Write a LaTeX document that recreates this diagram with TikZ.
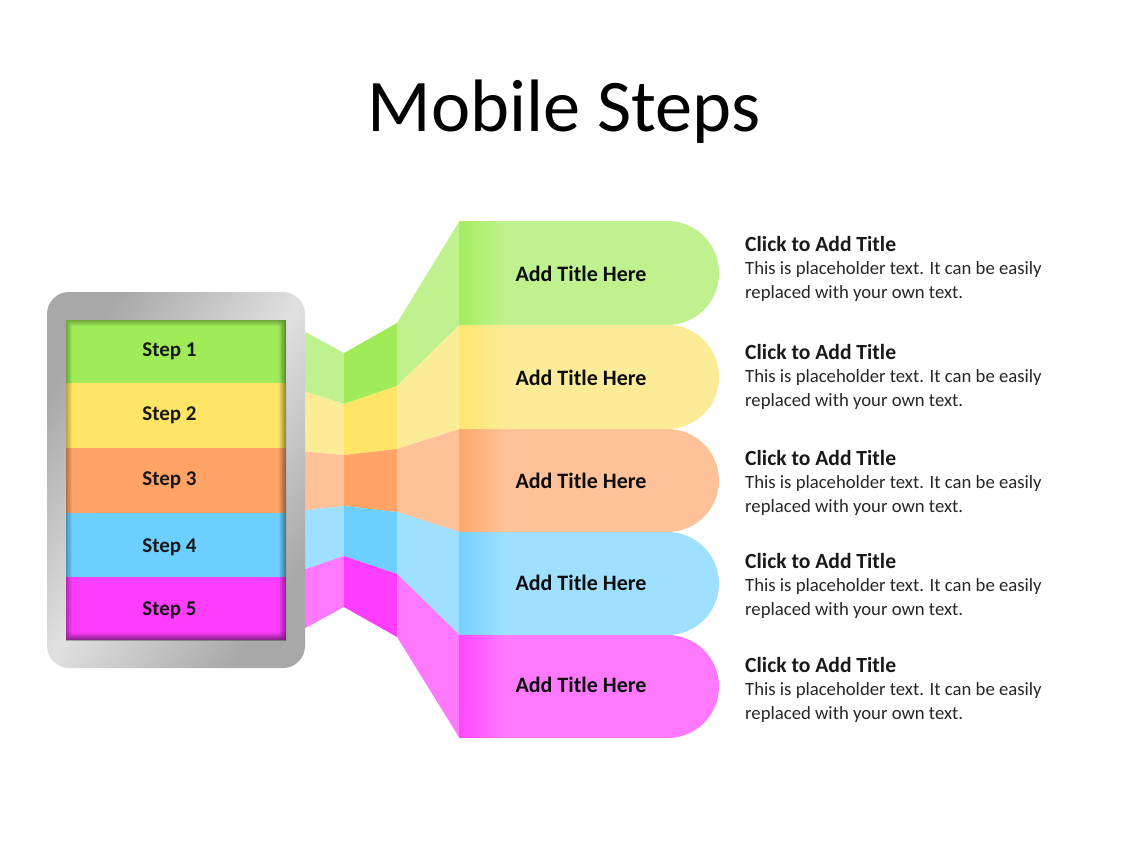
\documentclass[tikz,border=0pt]{standalone}
\usepackage{fontspec}
\setmainfont{Carlito}
\usepackage{tikz}
\usetikzlibrary{positioning}
\definecolor{greenS}{HTML}{9FEC58}
\definecolor{greenL}{HTML}{BFF28F}
\definecolor{yellowS}{HTML}{FFE566}
\definecolor{yellowL}{HTML}{FDEC97}
\definecolor{orangeS}{HTML}{FFA366}
\definecolor{orangeL}{HTML}{FFC298}
\definecolor{blueS}{HTML}{6DCFFF}
\definecolor{blueL}{HTML}{9FDFFF}
\definecolor{pinkS}{HTML}{FF3DFF}
\definecolor{pinkL}{HTML}{FF79FF}

\begin{document}
\begin{tikzpicture}
[x=1pt,y=-1pt,
headtext/.style = {anchor=base,font=\fontsize{74.3}{74.3}\selectfont},
steptext/.style = {anchor=base,font=\fontsize{21}{21}\selectfont\bfseries,text=black!90},
tabtext/.style = {anchor=base,font=\fontsize{22}{22}\selectfont\bfseries,text=black!95},
infohead/.style = {anchor=base west,inner sep=0pt,font=\fontsize{21.6}{21.6}\selectfont\bfseries,text=black!90},
infobody/.style = {anchor=base west,inner sep=0pt,font=\fontsize{18.7}{18.7}\selectfont,text=black!85},]
\useasboundingbox (0,0) rectangle (1128,846);
\node (head) at (564,131)[headtext] {Mobile Steps};
% ribbons between the phone and the tabs
\foreach \lit/\sat/\aa/\ab/\ac/\ad/\ba/\bb/\bc/\bd in {
greenL/greenS/329/353/323/221/390/404/386/325,
yellowL/yellowS/390/404/386/325/451/455/449/429,
orangeL/orangeS/451/455/449/429/511/506/512/532,
blueL/blueS/511/506/512/532/571/556/574/635,
pinkL/pinkS/571/556/574/635/631/607/637/738}{
\fill[\lit] (300,\aa)--(344,\ab)--(344,\bb)--(300,\ba)--cycle;
\fill[\sat] (344,\ab)--(397,\ac)--(397,\bc)--(344,\bb)--cycle;
\fill[\lit] (397,\ac)--(459.5,\ad)--(459.5,\bd)--(397,\bc)--cycle;
}
% tabs
\foreach \lit/\sat/\ya/\yb/\yt in {
greenL/greenS/221/325/281,
yellowL/yellowS/325/429/385,
orangeL/orangeS/429/532/488,
blueL/blueS/532/635/590,
pinkL/pinkS/635/738/692}{
\fill[\lit] (459,\ya) [rounded corners=51.5pt] -- (719,\ya) -- (719,\yb) [sharp corners] -- (459,\yb) -- cycle;
\shade[left color=\sat!85!\lit,right color=\lit] (459,\ya+0.6) rectangle (505,\yb-0.6);
\node[tabtext] at (581,\yt) {Add Title Here};
}
% phone body
\shade[rounded corners=22pt,top color=black!34,bottom color=black!34,middle color=black!12,
shading angle=55] (47,292) rectangle (305,668);
\fill[greenS] (66,320) rectangle (286,383);
\fill[yellowS] (66,383) rectangle (286,448);
\fill[orangeS] (66,448) rectangle (286,513);
\fill[blueS] (66,513) rectangle (286,577);
\fill[pinkS] (66,577) rectangle (286,640);
\begin{scope}
\clip (66,320) rectangle (286,640);
\foreach \w in {2,4,6,8,10,12}{
\draw[black,opacity=.05,line width=\w pt] (66,320) rectangle (286,640);
}
\foreach \w in {2,4,6,8}{
\fill[black,opacity=.05] (66,640-\w) rectangle (286,640);
\fill[black,opacity=.03] (286-\w,320) rectangle (286,640);
}
\end{scope}
\node (s1) at (169.5,356)[steptext] {Step 1};
\node (s2) at (169.5,420)[steptext] {Step 2};
\node (s3) at (169.5,485)[steptext] {Step 3};
\node (s4) at (169.5,552)[steptext] {Step 4};
\node (s5) at (169.5,615)[steptext] {Step 5};
% text on the right
\foreach \y in {250,358,464,567,671}{
\node[infohead] at (745,\y+1) {Click to Add Title};
\node[infobody] at (745,\y+24) {This is placeholder text. It can be easily};
\node[infobody] at (745,\y+48) {replaced with your own text.};
}
\end{tikzpicture}
\end{document}
